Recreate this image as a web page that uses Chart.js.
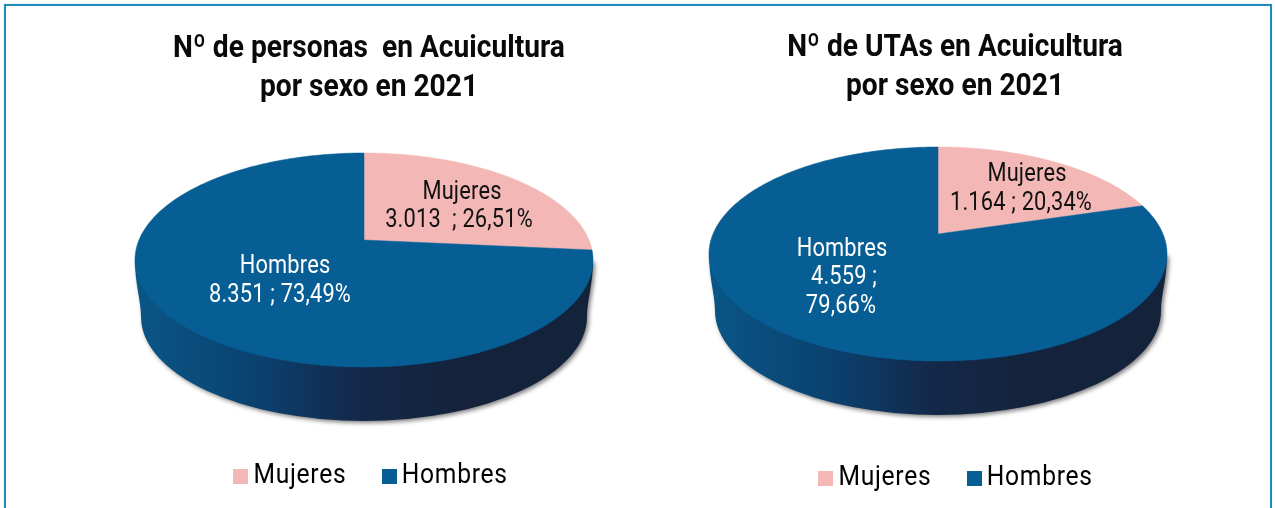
<!DOCTYPE html>
<html lang="es">
<head>
<meta charset="utf-8">
<title>Acuicultura por sexo 2021</title>
<script src="https://cdn.jsdelivr.net/npm/chart.js@4"></script>
<style>
html,body{margin:0;padding:0;background:#fff;width:1275px;height:508px;overflow:hidden}
#frame{position:absolute;left:4px;top:4px;width:1264px;height:520px;border:2px solid #2189b6;box-shadow:0 0 1px #9fd0e4}
canvas{position:absolute;top:0}
#c1{left:69px}
#c2{left:655px}
</style>
</head>
<body>
<div id="frame"></div>
<canvas id="c1" width="600" height="508"></canvas>
<canvas id="c2" width="600" height="508"></canvas>
<script>
const categories = ['Mujeres', 'Hombres'];
const colors = ['#f3b8b6', '#065e94'];
const personasValues = [3013, 8351];
const personasShares = ['26,51%', '73,49%'];
const utasValues = [1164, 4559];
const utasShares = ['20,34%', '79,66%'];
const titlePersonas = ['Nº de personas  en Acuicultura', 'por sexo en 2021'];
const titleUtas = ['Nº de UTAs en Acuicultura', 'por sexo en 2021'];

const thousands = v => String(v).replace(/\B(?=(\d{3})+$)/g, '.');
const legendSx = 0.88, titleSx = 0.88, labelSx = 0.84;

function swatch(color) {
  const c = document.createElement('canvas');
  c.width = 17; c.height = 15;
  const g = c.getContext('2d');
  g.fillStyle = color;
  g.fillRect(0, 0, 17, 15);
  return c;
}
const swatches = colors.map(swatch);

function condense(box, ctx, cx, sx, dx, dy, spacing) {
  const original = box.draw;
  box.draw = function (area) {
    ctx.save();
    ctx.letterSpacing = spacing;
    ctx.translate(cx + dx, dy);
    ctx.scale(sx, 1);
    ctx.translate(-cx, 0);
    original.call(this, area);
    ctx.restore();
  };
}

/* Perspective view of the flat pie: the chart's arc angles go through a homography */
const pie3d = {
  id: 'pie3d',
  beforeUpdate(chart) { chart.ctx.letterSpacing = '0.8px'; },
  afterLayout(chart, args, o) {
    if (chart.$condensed) return;
    chart.$condensed = true;
    const cx = chart.width / 2;
    condense(chart.titleBlock, chart.ctx, cx, titleSx, 0, 0, '0px');
    condense(chart.legend, chart.ctx, cx, legendSx, o.legendDx, o.legendDy, '0.8px');
  },
  beforeDatasetDraw(chart, args, o) {
    const ctx = chart.ctx;
    const ax = o.apexX, ay = o.apexY;
    const project = a => {
      const u = Math.cos(a), v = Math.sin(a), w = 1 - 0.187 * v;
      return [ax + 225 * u / w, ay + 103.28 * v / w];
    };
    const topCy = ay + 20, lowCy = topCy + 57;
    ctx.save();
    const grad = ctx.createLinearGradient(ax - 229, 0, ax + 229, 0);
    grad.addColorStop(0, '#0a5686');
    grad.addColorStop(0.26, '#0a4270');
    grad.addColorStop(0.48, '#13294a');
    grad.addColorStop(0.7, '#14233b');
    grad.addColorStop(1, '#13233a');
    ctx.shadowColor = 'rgba(0,0,0,0.5)';
    ctx.shadowBlur = 4;
    ctx.shadowOffsetX = 2;
    ctx.shadowOffsetY = 2;
    ctx.fillStyle = grad;
    ctx.beginPath();
    ctx.moveTo(ax + 229, topCy);
    ctx.bezierCurveTo(ax + 229, topCy + 25, ax + 223, topCy + 40, ax + 223, lowCy);
    ctx.ellipse(ax, lowCy, 223, 104, 0, 0, Math.PI);
    ctx.bezierCurveTo(ax - 223, topCy + 40, ax - 229, topCy + 25, ax - 229, topCy);
    ctx.closePath();
    ctx.fill();
    ctx.restore();

    args.meta.data.forEach(arc => {
      ctx.save();
      ctx.fillStyle = arc.options.backgroundColor;
      ctx.strokeStyle = arc.options.backgroundColor;
      ctx.lineWidth = 0.5;
      ctx.beginPath();
      ctx.moveTo(ax, ay);
      const n = Math.ceil((arc.endAngle - arc.startAngle) * 90);
      for (let k = 0; k <= n; k++) {
        const p = project(arc.startAngle + (arc.endAngle - arc.startAngle) * k / n);
        ctx.lineTo(p[0], p[1]);
      }
      ctx.closePath();
      ctx.fill();
      ctx.stroke();
      ctx.restore();
    });
    return false;
  },
  afterDatasetsDraw(chart, args, o) {
    const ctx = chart.ctx;
    ctx.save();
    ctx.textAlign = 'center';
    ctx.textBaseline = 'alphabetic';
    ctx.letterSpacing = '0.2px';
    ctx.font = '26px Roboto, sans-serif';
    o.labels.forEach((block, i) => {
      ctx.fillStyle = i === 0 ? '#111111' : '#ffffff';
      block.forEach(line => {
        ctx.save();
        ctx.translate(line[1], line[2]);
        ctx.scale(labelSx, 1);
        ctx.fillText(line[0], 0, 0);
        ctx.restore();
      });
    });
    ctx.restore();
  }
};

function makeChart(id, values, shares, title, view, titleTop) {
  return new Chart(document.getElementById(id), {
    type: 'pie',
    data: {
      labels: categories,
      datasets: [{ data: values, backgroundColor: colors, borderWidth: 0 }]
    },
    plugins: [pie3d],
    options: {
      responsive: false,
      animation: false,
      plugins: {
        tooltip: { enabled: false },
        title: {
          display: true,
          text: title,
          color: '#0a0a0a',
          font: { family: 'Roboto, sans-serif', size: 32, weight: 'bold', lineHeight: 1.23 },
          padding: { top: titleTop, bottom: 10 }
        },
        legend: {
          position: 'bottom',
          labels: {
            usePointStyle: true,
            pointStyleWidth: 1,
            boxHeight: 15,
            padding: 48,
            color: '#111111',
            font: { family: 'Roboto, sans-serif', size: 28 },
            generateLabels: () => categories.map((name, i) => ({
              text: name, fillStyle: colors[i], strokeStyle: colors[i], lineWidth: 0,
              pointStyle: swatches[i], hidden: false, index: i
            }))
          }
        },
        pie3d: Object.assign({}, view, {
          labels: view.labelPos.map((block, i) => {
            const texts = view.lines(i, thousands(values[i]), shares[i]);
            return texts.map((t, k) => [t, block[k][0], block[k][1]]);
          })
        })
      }
    }
  });
}

makeChart('c1', personasValues, personasShares, titlePersonas, {
  apexX: 295, apexY: 240, legendDx: 5, legendDy: -8,
  labelPos: [[[393, 199], [390, 227]], [[216, 273], [211, 302]]],
  lines: (i, v, s) => [categories[i], i === 0 ? v + '  ; ' + s : v + ' ; ' + s]
}, 29);

makeChart('c2', utasValues, utasShares, titleUtas, {
  apexX: 283, apexY: 234, legendDx: 4, legendDy: -6,
  labelPos: [[[372, 181], [366, 210]], [[187, 256], [189, 284], [186, 313]]],
  lines: (i, v, s) => i === 0 ? [categories[i], v + ' ; ' + s] : [categories[i], v + ' ;', s]
}, 28);
</script>
</body>
</html>
